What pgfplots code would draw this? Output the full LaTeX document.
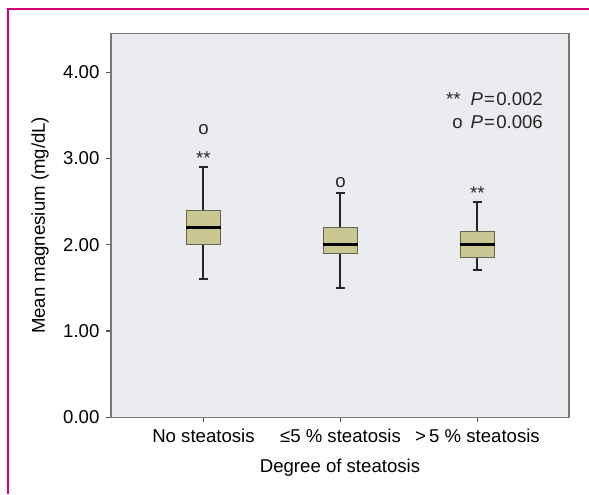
\documentclass[border=0pt]{standalone}
\usepackage{fontspec}
\setmainfont{Liberation Sans}
\usepackage{pgfplots}
\pgfplotsset{compat=1.18}
\usepgfplotslibrary{statistics}
\definecolor{framec}{RGB}{214,0,111}
\definecolor{boxfill}{RGB}{203,199,146}
\definecolor{boxedge}{RGB}{100,100,82}
\definecolor{bgc}{RGB}{235,236,240}
\definecolor{axgray}{RGB}{120,120,120}
\begin{document}
\fontsize{9.3}{11}\selectfont
\begin{tikzpicture}
\path[use as bounding box] (0,0) rectangle (294.5pt,247pt);
\fill[white] (0,0) rectangle (294.5pt,247pt);
\draw[framec, line width=1pt] (4.15pt,0) -- (4.15pt,242.5pt) -- (294.5pt,242.5pt);
\begin{axis}[
  at={(55.5pt,38.35pt)}, anchor=south west,
  width=229pt, height=192pt, scale only axis,
  xmin=-0.675, xmax=2.668, ymin=0, ymax=4.45,
  axis background/.style={fill=bgc},
  axis line style={axgray, line width=0.75pt},
  tick pos=left, tick align=outside, major tick length=2.5pt,
  tick style={axgray!70!black, line width=0.6pt},
  xtick={0,1,2},
  xticklabels={No steatosis, ≤5 \% steatosis, >\,5 \% steatosis},
  ytick={0,1,2,3,4},
  yticklabels={0.00,1.00,2.00,3.00,4.00},
  ylabel={Mean magnesium (mg/dL)},
  xlabel={Degree of steatosis},
  ylabel style={at={(axis description cs:-0.155,0.5)}, anchor=center},
  xlabel style={at={(axis description cs:0.5,0)}, anchor=center, yshift=-25pt},
  boxplot/draw direction=y,
  boxplot/every box/.style={draw=boxedge, fill=boxfill, line width=0.7pt},
  boxplot/every median/.style={black, line width=1.25pt},
  boxplot/every whisker/.style={black!85, line width=1pt},
  boxplot/box extend=0.252,
  boxplot/whisker extend=0.07,
]
\addplot[boxplot prepared={draw position=0, lower whisker=1.60, lower quartile=2.00,
  median=2.20, upper quartile=2.40, upper whisker=2.90}] coordinates {};
\addplot[boxplot prepared={draw position=1, lower whisker=1.50, lower quartile=1.90,
  median=2.00, upper quartile=2.20, upper whisker=2.60}] coordinates {};
\addplot[boxplot prepared={draw position=2, lower whisker=1.71, lower quartile=1.85,
  median=2.00, upper quartile=2.155, upper whisker=2.50}] coordinates {};
% mild outliers (o)
\addplot[draw=none, mark=none, nodes near coords={o},
  nodes near coords style={anchor=base, yshift=-2.4pt, inner sep=0pt, text=black!85}]
  coordinates {(0,3.33) (1,2.72)};
% extreme outliers (**)
\addplot[draw=none, mark=none, nodes near coords={**},
  nodes near coords style={anchor=base, yshift=-5.4pt, inner sep=0pt, text=black!85}]
  coordinates {(0,3.05) (2,2.65)};
\node[anchor=base east, inner sep=0pt, text=black!85] at (axis cs:2.48,3.615)
  {**\hspace{5pt}\textit{P}\kern0.6pt=\kern0.6pt0.002};
\node[anchor=base east, inner sep=0pt, text=black!85] at (axis cs:2.48,3.345)
  {o\hspace{4pt}\textit{P}\kern0.6pt=\kern0.6pt0.006};
\end{axis}
\end{tikzpicture}
\end{document}
